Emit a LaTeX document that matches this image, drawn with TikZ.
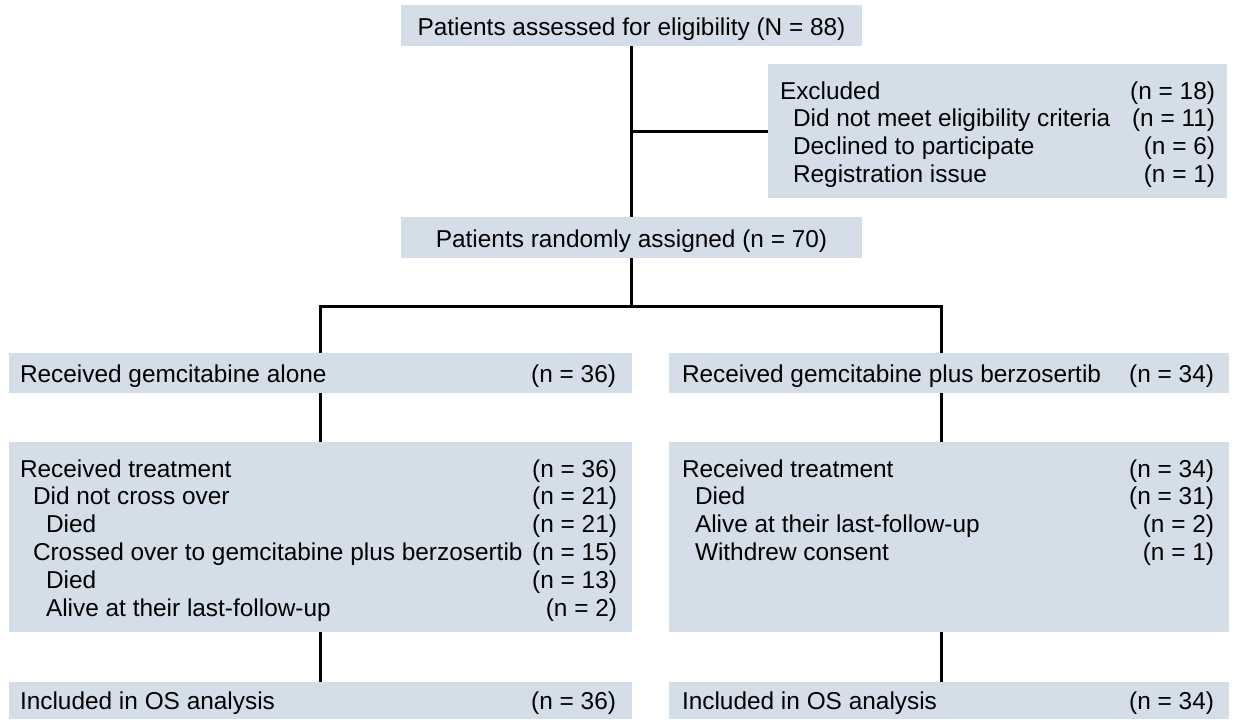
\documentclass[tikz,border=0pt]{standalone}
\usepackage{fontspec}
\setmainfont{Liberation Sans}
\definecolor{boxfill}{RGB}{211,222,233}
\tikzset{
  box/.style={fill=boxfill, draw=none, inner sep=0pt, outer sep=0pt},
  lbl/.style={inner sep=0pt, outer sep=0pt, font=\fontsize{24.4}{28}\selectfont},
  lt/.style={lbl, anchor=base west},
  rt/.style={lbl, anchor=base east},
  ct/.style={lbl, anchor=base},
  conn/.style={draw=black, line width=3pt}
}
\begin{document}
\begin{tikzpicture}[x=1pt,y=-1pt]
\useasboundingbox (0,0) rectangle (1235,720);
% boxes
\node[box, minimum width=461pt, minimum height=41pt] (top) at (631.5,25.5) {};
\node[box, minimum width=459pt, minimum height=134pt] (excl) at (997.5,131) {};
\node[box, minimum width=461pt, minimum height=41pt] (rand) at (631.5,237.5) {};
\node[box, minimum width=623pt, minimum height=40pt] (gemL) at (320.5,373) {};
\node[box, minimum width=560pt, minimum height=40pt] (gemR) at (949,373) {};
\node[box, minimum width=623pt, minimum height=190pt] (trtL) at (320.5,537) {};
\node[box, minimum width=560pt, minimum height=190pt] (trtR) at (949,537) {};
\node[box, minimum width=623pt, minimum height=37pt] (osL) at (320.5,700.5) {};
\node[box, minimum width=560pt, minimum height=37pt] (osR) at (949,700.5) {};
% texts
\node[ct] (t1) at (631.5,35.5) {Patients assessed for eligibility (N = 88)};
\node[lt] (e0) at (780,99) {Excluded};
\node[rt] (e0n) at (1215,99) {(n = 18)};
\node[lt] (e1) at (793,126) {Did not meet eligibility criteria};
\node[rt] (e1n) at (1215,126) {(n = 11)};
\node[lt] (e2) at (793,154) {Declined to participate};
\node[rt] (e2n) at (1215,154) {(n = 6)};
\node[lt] (e3) at (793,182) {Registration issue};
\node[rt] (e3n) at (1215,182) {(n = 1)};
\node[ct] (t2) at (631.5,247) {Patients randomly assigned (n = 70)};
\node[lt] (gl) at (20,382) {Received gemcitabine alone};
\node[rt] (gln) at (616,382) {(n = 36)};
\node[lt] (gr) at (682,382) {Received gemcitabine plus berzosertib};
\node[rt] (grn) at (1214,382) {(n = 34)};
% left treatment
\node[lt] (l0) at (20,477) {Received treatment};
\node[rt] (l0n) at (617,477) {(n = 36)};
\node[lt] (l1) at (33,504.5) {Did not cross over};
\node[rt] (l1n) at (617,504.5) {(n = 21)};
\node[lt] (l2) at (46,532) {Died};
\node[rt] (l2n) at (617,532) {(n = 21)};
\node[lt] (l3) at (33,560) {Crossed over to gemcitabine plus berzosertib};
\node[rt] (l3n) at (617,560) {(n = 15)};
\node[lt] (l4) at (46,588) {Died};
\node[rt] (l4n) at (617,588) {(n = 13)};
\node[lt] (l5) at (46,616) {Alive at their last-follow-up};
\node[rt] (l5n) at (617,616) {(n = 2)};
% right treatment
\node[lt] (r0) at (682,477) {Received treatment};
\node[rt] (r0n) at (1214,477) {(n = 34)};
\node[lt] (r1) at (695,504.5) {Died};
\node[rt] (r1n) at (1214,504.5) {(n = 31)};
\node[lt] (r2) at (695,532) {Alive at their last-follow-up};
\node[rt] (r2n) at (1214,532) {(n = 2)};
\node[lt] (r3) at (695,560.5) {Withdrew consent};
\node[rt] (r3n) at (1214,560.5) {(n = 1)};
% OS
\node[lt] (ol) at (20,709) {Included in OS analysis};
\node[rt] (oln) at (616,709) {(n = 36)};
\node[lt] (or) at (682,709) {Included in OS analysis};
\node[rt] (orn) at (1214,709) {(n = 34)};
% connectors
\coordinate (split) at (631.5,306);
\coordinate (sL) at (320.5,306);
\coordinate (sR) at (941,306);
\draw[conn] (top.south) -- (rand.north);
\draw[conn] (top.south |- excl.west) -- (excl.west);
\draw[conn] (rand.south) -- (split);
\draw[conn] ([xshift=-1.5pt]sL) -- ([xshift=1.5pt]sR);
\draw[conn] ([yshift=-1.5pt]sL) -- (gemL.north);
\draw[conn] ([yshift=-1.5pt]sR) -- (sR |- gemR.north);
\draw[conn] (gemL.south) -- (trtL.north);
\draw[conn] (gemR.south -| sR) -- (trtR.north -| sR);
\draw[conn] (trtL.south) -- (osL.north);
\draw[conn] (trtR.south -| sR) -- (osR.north -| sR);
\end{tikzpicture}
\end{document}
